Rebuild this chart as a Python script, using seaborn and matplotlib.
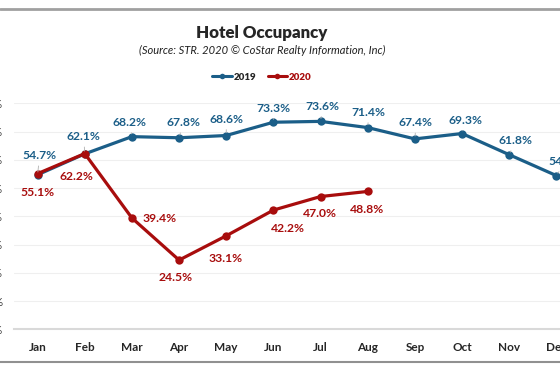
import matplotlib.pyplot as plt
import seaborn as sns
import pandas as pd
from matplotlib.lines import Line2D

# Данные
months = ['Jan', 'Feb', 'Mar', 'Apr', 'May', 'Jun', 'Jul', 'Aug', 'Sep', 'Oct', 'Nov', 'Dec']
occ_2019 = [54.7, 62.1, 68.2, 67.8, 68.6, 73.3, 73.6, 71.4, 67.4, 69.3, 61.8, 54.4]
occ_2020 = [55.1, 62.2, 39.4, 24.5, 33.1, 42.2, 47.0, 48.8]
y_ticks = [0, 10, 20, 30, 40, 50, 60, 70, 80]

BLUE = '#1B5E88'
RED = '#A80D0D'

# Смещения подписей (в пикселях)
off_2019 = [(2, 19), (-1, 17), (-2, 14), (4, 15), (0, 16), (0, 14),
            (2, 15), (1, 15), (1, 16), (3, 13), (6, 14), (9, 14)]
off_2020 = [(0, -19), (-8, -23), (28, -1), (-3, -17), (-1, -23), (14, -18),
            (-1, -17), (-1, -18)]

df = pd.concat([
    pd.DataFrame({'month': months, 'occ': occ_2019, 'year': '2019'}),
    pd.DataFrame({'month': months[:len(occ_2020)], 'occ': occ_2020, 'year': '2020'}),
])

sns.set_style('white')
plt.rcParams['font.family'] = ['Lato', 'DejaVu Sans']

fig = plt.figure(figsize=(5.6, 3.73), dpi=100)
ax = fig.add_axes([14 / 560, 1 - 329.3 / 373, 566 / 560, 226 / 373])

sns.lineplot(data=df, x='month', y='occ', hue='year', palette={'2019': BLUE, '2020': RED},
             marker='o', markersize=6, markeredgewidth=0, linewidth=2.3, sort=False, ax=ax)

ax.set_xlim(-0.5, 11.5)
ax.set_ylim(0, 80)
ax.set_yticks(y_ticks)
ax.set_yticklabels([f'{t}%' for t in y_ticks])
ax.tick_params(axis='y', length=0, pad=8, labelsize=8.5, labelcolor='#404040')
ax.tick_params(axis='x', length=0, pad=9, labelsize=8.5)
for lab in ax.get_xticklabels():
    lab.set_fontweight('bold')
ax.set_xlabel('')
ax.set_ylabel('')
ax.grid(axis='y', color='#EFEFEF', linewidth=0.8)
for s in ['top', 'right', 'left']:
    ax.spines[s].set_visible(False)
ax.spines['bottom'].set_color('#D9D9D9')
ax.spines['bottom'].set_linewidth(1.5)

# Подписи значений
for i, (v, off) in enumerate(zip(occ_2019, off_2019)):
    ax.annotate(f'{v:.1f}%', (i, v), xytext=off, textcoords='offset pixels',
                ha='center', va='center', fontsize=8.7, fontweight='bold', color=BLUE,
                arrowprops=dict(arrowstyle='-', color='#B0B0B0', lw=0.6, shrinkA=1, shrinkB=2))
for i, (v, off) in enumerate(zip(occ_2020, off_2020)):
    ax.annotate(f'{v:.1f}%', (i, v), xytext=off, textcoords='offset pixels',
                ha='center', va='center', fontsize=8.7, fontweight='bold', color=RED)

# Заголовки
fig.text(262 / 560, 1 - 33 / 373, 'Hotel Occupancy', ha='center', va='center',
         fontsize=12.2, fontweight='heavy')
fig.text(262 / 560, 1 - 50 / 373, '(Source: STR. 2020 © CoStar Realty Information, Inc)',
         ha='center', va='center', fontsize=8, style='italic', color='#202020')

leg = ax.legend(loc='center', bbox_to_anchor=(262 / 560, 1 - 77 / 373),
                bbox_transform=fig.transFigure, ncol=2, frameon=False,
                prop={'size': 7, 'weight': 'heavy'}, handlelength=2.0,
                columnspacing=1.2, handletextpad=0.2)
for h in leg.legend_handles:
    h.set_markersize(4)
    h.set_linewidth(2.2)
leg.get_texts()[1].set_color(RED)

# Рамка скриншота
fig.add_artist(Line2D([0, 1], [1 - 9 / 373, 1 - 9 / 373], color='#A0A0A0', lw=2))
fig.add_artist(Line2D([0, 1], [1 - 362 / 373, 1 - 362 / 373], color='#909090', lw=1.5))

plt.savefig('out.png', dpi=100)
